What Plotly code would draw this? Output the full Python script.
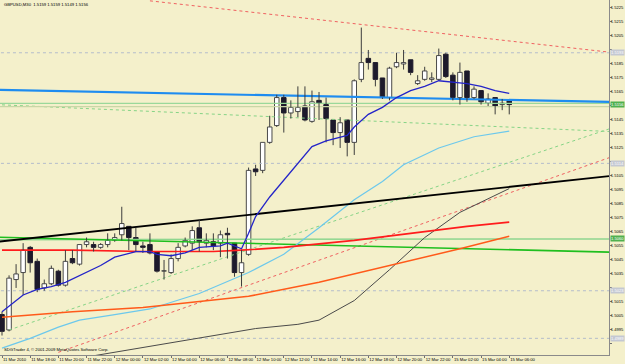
import plotly.graph_objects as go

# ---------------- data (M30 bars, index 0 = 11 Mar 16:00) ----------------
bar_index = list(range(73))
open_ = [1.5006, 1.4995, 1.5031, 1.5036, 1.5054, 1.5044, 1.5025, 1.5028, 1.5037, 1.5027,
         1.5046, 1.5042, 1.5056, 1.5056, 1.5054, 1.5056, 1.5059, 1.5063, 1.5069, 1.5061,
         1.5055, 1.5056, 1.5051, 1.5037, 1.5036, 1.5046, 1.5055, 1.5057, 1.5068, 1.5057,
         1.5058, 1.5057, 1.5064, 1.5057, 1.5036, 1.5049, 1.5110, 1.5109, 1.5129, 1.5141,
         1.5161, 1.5150, 1.5151, 1.5155, 1.5144, 1.5159, 1.5156, 1.5145, 1.5136, 1.5145,
         1.5129, 1.5174, 1.5189, 1.5186, 1.5175, 1.5161, 1.5183, 1.5185, 1.5188, 1.5171,
         1.5174, 1.5174, 1.5174, 1.5192, 1.5177, 1.5161, 1.5180, 1.5161, 1.5166, 1.5157,
         1.5161, 1.5156, 1.5159]
high = [1.5008, 1.5034, 1.5042, 1.5057, 1.5055, 1.5046, 1.5031, 1.5041, 1.5038, 1.5052,
        1.5052, 1.5056, 1.5061, 1.5058, 1.5057, 1.5064, 1.5064, 1.5083, 1.5069, 1.5068,
        1.5058, 1.5064, 1.5051, 1.5045, 1.5049, 1.5057, 1.5061, 1.5069, 1.5074, 1.5064,
        1.5064, 1.5066, 1.5068, 1.5057, 1.5052, 1.5111, 1.5113, 1.5129, 1.5148, 1.5163,
        1.5163, 1.5159, 1.5169, 1.5169, 1.5166, 1.5165, 1.5161, 1.5145, 1.5147, 1.5145,
        1.5174, 1.5211, 1.5195, 1.5186, 1.5175, 1.5183, 1.5193, 1.5195, 1.5188, 1.5177,
        1.5183, 1.5179, 1.5196, 1.5193, 1.5179, 1.5186, 1.5180, 1.5169, 1.5166, 1.5164,
        1.5161, 1.5160, 1.5159]
low = [1.4991, 1.4994, 1.5025, 1.5020, 1.5036, 1.5022, 1.5023, 1.5027, 1.5026, 1.5026,
       1.5042, 1.5041, 1.5054, 1.5051, 1.5053, 1.5054, 1.5058, 1.5059, 1.5052, 1.5051,
       1.5050, 1.5049, 1.5036, 1.5031, 1.5035, 1.5044, 1.5054, 1.5052, 1.5051, 1.5054,
       1.5052, 1.5047, 1.5046, 1.5033, 1.5026, 1.5048, 1.5105, 1.5107, 1.5128, 1.5140,
       1.5136, 1.5146, 1.5147, 1.5144, 1.5143, 1.5145, 1.5129, 1.5127, 1.5125, 1.5119,
       1.5120, 1.5172, 1.5181, 1.5169, 1.5160, 1.5159, 1.5182, 1.5181, 1.5177, 1.5170,
       1.5173, 1.5172, 1.5173, 1.5175, 1.5159, 1.5156, 1.5158, 1.5160, 1.5156, 1.5155,
       1.5149, 1.5152, 1.5149]
close = [1.4994, 1.5032, 1.5035, 1.5052, 1.5043, 1.5024, 1.5028, 1.5039, 1.5027, 1.5044,
         1.5043, 1.5056, 1.5058, 1.5054, 1.5056, 1.5059, 1.5061, 1.5071, 1.5061, 1.5056,
         1.5054, 1.5050, 1.5037, 1.5037, 1.5046, 1.5054, 1.5059, 1.5066, 1.5058, 1.5059,
         1.5055, 1.5063, 1.5063, 1.5036, 1.5043, 1.5109, 1.5108, 1.5129, 1.5140, 1.5161,
         1.5150, 1.5154, 1.5154, 1.5145, 1.5158, 1.5157, 1.5146, 1.5136, 1.5143, 1.5129,
         1.5173, 1.5186, 1.5186, 1.5174, 1.5161, 1.5182, 1.5186, 1.5186, 1.5179, 1.5173,
         1.5180, 1.5175, 1.5191, 1.5176, 1.5161, 1.5179, 1.5161, 1.5167, 1.5158, 1.5160,
         1.5155, 1.5157, 1.5156]

# moving averages (bar index, price)
ma_fast_bars = [0, 3, 5, 7, 9, 12, 14, 16, 19, 21, 22, 24, 26, 28, 31, 32, 34, 35, 36, 38,
                40, 42, 44, 46, 48, 49, 50, 52, 54, 56, 58, 60, 62, 64, 66, 68, 70, 72]
ma_fast_vals = [1.5008, 1.5020, 1.5024, 1.5026, 1.5029, 1.5036, 1.5041, 1.5047, 1.5051, 1.5051,
                1.5049, 1.5048, 1.5050, 1.5054, 1.5055, 1.5057, 1.5053, 1.5064, 1.5076, 1.5090,
                1.5102, 1.5114, 1.5126, 1.5130, 1.5133, 1.5134, 1.5140, 1.5149, 1.5154, 1.5161,
                1.5166, 1.5169, 1.5173, 1.5172, 1.5171, 1.5169, 1.5166, 1.5164]
ma_cyan_bars = [0, 4, 8, 11, 16, 21, 28, 33, 35, 40, 45, 50, 54, 57, 62, 67, 72]
ma_cyan_vals = [1.4982, 1.4989, 1.4997, 1.5002, 1.5006, 1.5010, 1.5021, 1.5032, 1.5036, 1.5049,
                1.5068, 1.5088, 1.5101, 1.5113, 1.5125, 1.5133, 1.5137]
ma_red_bars = [0, 10, 20, 30, 34, 40, 50, 60, 66, 72]
ma_red_vals = [1.5052, 1.5052, 1.5051, 1.5051, 1.5052, 1.5054, 1.5059, 1.5065, 1.5069, 1.5072]
ma_orange_bars = [0, 10, 20, 30, 35, 45, 55, 65, 72]
ma_orange_vals = [1.5004, 1.5008, 1.5011, 1.5016, 1.5019, 1.5029, 1.5041, 1.5053, 1.5062]
ma_gray_bars = [10, 24, 30, 36, 42, 45, 50, 55, 60, 65, 72]
ma_gray_vals = [1.4974, 1.4986, 1.4991, 1.4996, 1.4999, 1.5002, 1.5016, 1.5038, 1.5061, 1.5079, 1.5096]

# trend lines: (start bar, start price, end bar, end price)
tl_blue = (-1, 1.51665, 87, 1.51578)
tl_black = (-1, 1.50578, 87, 1.51053)
tl_green = (-1, 1.50613, 87, 1.50505)
tl_lightgreen = (-1, 1.50595, 87, 1.50600)
tl_hgreen1 = (-1, 1.51568, 87, 1.51568)
tl_hgreen2 = (-1, 1.51546, 87, 1.51546)
tl_red_dot_down = (21, 1.52301, 87, 1.51930)
tl_red_dot_up = (8, 1.49790, 87, 1.51195)
tl_green_dot_a = (0, 1.51558, 87, 1.51366)
tl_green_dot_b = (1, 1.49950, 87, 1.51400)

# horizontal price levels (dotted) and their axis labels
levels = [1.5193, 1.5114, 1.5023, 1.4989]

# axis ticks
price_ticks = [round(1.4985 + 0.001 * k, 4) for k in range(25)]
time_tick_bars = list(range(0, 73, 4))
time_tick_text = ["11 Mar 2010", "11 Mar 18:00", "11 Mar 20:00", "11 Mar 22:00",
                  "12 Mar 00:00", "12 Mar 02:00", "12 Mar 04:00", "12 Mar 06:00",
                  "12 Mar 08:00", "12 Mar 10:00", "12 Mar 12:00", "12 Mar 14:00",
                  "12 Mar 16:00", "12 Mar 18:00", "12 Mar 20:00", "12 Mar 22:00",
                  "15 Mar 02:00", "15 Mar 04:00", "15 Mar 06:00"]

title_text = "GBPUSD,M30  1.5159 1.5159 1.5149 1.5156"
footer_text = "SDGTrader 4, © 2001-2009 MetaQuotes Software Corp."
last_price = 1.5156

# ---------------- figure ----------------
BG = "#f4f0cb"
FONT = "Liberation Sans"
FS = 4.2
YFS = 4.1
fig = go.Figure()


def seg(t, color, width, dash="solid"):
    fig.add_trace(go.Scatter(x=[t[0], t[2]], y=[t[1], t[3]], mode="lines",
                             line=dict(color=color, width=width, dash=dash),
                             hoverinfo="skip", showlegend=False))


# candle bodies (bars) - drawn in the bar layer, below all lines
bull = [c >= o for o, c in zip(open_, close)]
body_base = [min(o, c) for o, c in zip(open_, close)]
body_h = [max(abs(c - o), 0.00003) for o, c in zip(open_, close)]
fig.add_trace(go.Bar(
    x=bar_index, y=body_h, base=body_base, width=0.64,
    marker=dict(color=["#ffffff" if b else "#1d1a2c" for b in bull],
                line=dict(color=["#4a4a4a" if b else "#1d1a2c" for b in bull], width=1)),
    hoverinfo="skip", showlegend=False))

for lv in levels:
    seg((-1, lv, 87, lv), "#b4bccb", 1, "dot")

seg(tl_green_dot_a, "#86d486", 1, "dot")
seg(tl_green_dot_b, "#86d486", 1, "dot")
seg(tl_red_dot_down, "#f06060", 1, "dot")
seg(tl_red_dot_up, "#f06060", 1, "dot")
seg(tl_hgreen2, "#c9d6a6", 1.2)
seg(tl_hgreen1, "#9ad89a", 1.2)
seg(tl_lightgreen, "#8fd68f", 1.5)
seg(tl_green, "#1fbf1f", 1.6)

for bx, vals, col, w in [(ma_gray_bars, ma_gray_vals, "#4a4a4a", 1),
                         (ma_cyan_bars, ma_cyan_vals, "#6cc8ec", 1.2),
                         (ma_orange_bars, ma_orange_vals, "#ff5a1a", 1.5),
                         (ma_red_bars, ma_red_vals, "#ff1c1c", 1.6)]:
    fig.add_trace(go.Scatter(x=bx, y=vals, mode="lines", line=dict(color=col, width=w),
                             hoverinfo="skip", showlegend=False))

seg(tl_black, "#000000", 1.8)
seg(tl_blue, "#1e8cf0", 2.2)

# wicks: two pieces per candle so they never cross the body
wx, wy = [], []
for i, o, h, l, c in zip(bar_index, open_, high, low, close):
    top, bot = max(o, c), min(o, c)
    if h > top:
        wx += [i, i, None]
        wy += [top, h, None]
    if l < bot:
        wx += [i, i, None]
        wy += [bot, l, None]
fig.add_trace(go.Scatter(x=wx, y=wy, mode="lines", line=dict(color="#3c3c3c", width=1),
                         hoverinfo="skip", showlegend=False, connectgaps=False))

fig.add_trace(go.Scatter(x=ma_fast_bars, y=ma_fast_vals, mode="lines",
                         line=dict(color="#2424c8", width=1.3),
                         hoverinfo="skip", showlegend=False))

annotations = []
annotations.append(dict(x=0.004, y=0.986, xref="paper", yref="paper", text=title_text,
                        showarrow=False, xanchor="left", yanchor="middle",
                        font=dict(family=FONT, size=FS, color="#000000")))
annotations.append(dict(x=0.003, y=0.002, xref="paper", yref="paper", text=footer_text,
                        showarrow=False, xanchor="left", yanchor="bottom",
                        font=dict(family=FONT, size=FS, color="#000000")))
box_levels = []
for lv in levels:
    box_levels.append(lv)
    annotations.append(dict(x=1.0, y=lv, xref="paper", yref="y", text=f"{lv:.4f}",
                            showarrow=False, xanchor="left", yanchor="middle", xshift=1,
                            bgcolor="#c4c8d2", borderpad=0,
                            font=dict(family=FONT, size=YFS, color="#ffffff")))
for lv in (tl_lightgreen[3], last_price):
    box_levels.append(lv)
    annotations.append(dict(x=1.0, y=lv, xref="paper", yref="y", text=f"{lv:.4f}",
                            showarrow=False, xanchor="left", yanchor="middle", xshift=1,
                            bgcolor="#4fb04f", borderpad=0,
                            font=dict(family=FONT, size=YFS, color="#ffffff")))

# tick labels hidden where a price box covers them (as on the original)
tick_text = [("" if any(abs(v - b) < 0.00045 for b in box_levels) else f"{v:.4f}")
             for v in price_ticks]

fig.update_layout(
    width=625, height=364,
    margin=dict(l=0, r=16, t=0, b=9, autoexpand=False),
    paper_bgcolor=BG, plot_bgcolor=BG,
    showlegend=False, barmode="overlay",
    annotations=annotations,
    xaxis=dict(range=[-0.284, 86.16], showgrid=False, zeroline=False, automargin=False,
               tickmode="array", tickvals=time_tick_bars, ticktext=time_tick_text,
               tickangle=0, ticks="outside", ticklen=2, tickcolor="#707070",
               ticklabelposition="outside right",
               tickfont=dict(family=FONT, size=FS, color="#000000"),
               showline=True, linecolor="#8a8a8a", linewidth=1),
    yaxis=dict(range=[1.49771, 1.52307], side="right", showgrid=False, zeroline=False,
               automargin=False, ticklabelstandoff=-2,
               tickmode="array", tickvals=price_ticks, ticktext=tick_text,
               ticks="outside", ticklen=2, tickcolor="#707070",
               tickfont=dict(family=FONT, size=YFS, color="#000000"),
               showline=True, linecolor="#8a8a8a", linewidth=1),
)

fig.write_html("out.html", config=dict(displayModeBar=False))
